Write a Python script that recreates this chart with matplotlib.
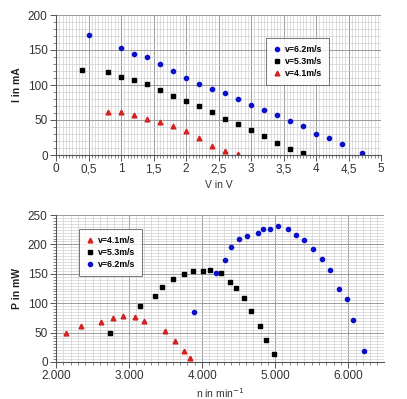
import matplotlib
matplotlib.use("Agg")
import matplotlib.pyplot as plt
from matplotlib.ticker import MultipleLocator, FuncFormatter

plt.rcParams['font.family'] = ['Liberation Sans', 'DejaVu Sans']

# ---- Top chart: I-V curves ----
v62_V = [0.5, 1.0, 1.2, 1.4, 1.6, 1.8, 2.0, 2.2, 2.4, 2.6, 2.8, 3.0, 3.2, 3.4, 3.6, 3.8, 4.0, 4.2, 4.4, 4.7]
v62_I = [171.5, 153, 144, 140, 130, 120, 109.5, 102, 94, 88.5, 80.5, 72, 64, 56.5, 48.5, 41, 30.5, 25, 15.5, 3.5]
v53_V = [0.4, 0.8, 1.0, 1.2, 1.4, 1.6, 1.8, 2.0, 2.2, 2.4, 2.6, 2.8, 3.0, 3.2, 3.4, 3.6, 3.8]
v53_I = [121, 118.5, 111.5, 107, 101.5, 93, 85, 77.5, 70.5, 62, 52, 45, 35.5, 26.5, 17, 9, 2.5]
v41_V = [0.8, 1.0, 1.2, 1.4, 1.6, 1.8, 2.0, 2.2, 2.4, 2.6, 2.8]
v41_I = [62, 61, 56.5, 52, 47.5, 41, 34.5, 24, 13.5, 6, 1.5]

# ---- Bottom chart: P-n curves ----
p41_n = [2137, 2338, 2612, 2781, 2922, 3082, 3210, 3498, 3626, 3758, 3831]
p41_P = [49, 61.5, 68, 74, 78, 76, 70.5, 53.5, 35.5, 18.5, 6.5]
p53_n = [2740, 3155, 3352, 3457, 3607, 3758, 3872, 4014, 4114, 4260, 4388, 4470, 4575, 4671, 4795, 4881, 4982]
p53_P = [49, 95, 112, 128, 142, 149, 154.5, 155.5, 157, 151, 136, 126.5, 108, 86, 60.5, 37, 13]
p62_n = [3895, 4187, 4315, 4397, 4507, 4616, 4762, 4830, 4932, 5037, 5174, 5288, 5397, 5516, 5640, 5744, 5872, 5982, 6068, 6215]
p62_P = [85, 152, 173, 196, 208.5, 215, 219, 225.5, 227, 231, 225.5, 216.5, 207, 191.5, 175, 157, 124, 107.5, 72, 18]

lab62 = "v=6.2m/s"
lab53 = "v=5.3m/s"
lab41 = "v=4.1m/s"

BLUE = "#0a10c8"
RED = "#d42020"
BLACK = "#000000"

W, H = 407, 399
fig = plt.figure(figsize=(W / 100, H / 100), dpi=100)

def frac(l, t, r, b):
    return [l / W, 1 - b / H, (r - l) / W, (b - t) / H]

def style(ax):
    ax.grid(which='major', color='#9a9a9a', linewidth=0.7)
    ax.grid(which='minor', color='#d0d0d0', linewidth=0.5)
    ax.set_axisbelow(True)
    for s in ['top', 'right']:
        ax.spines[s].set_visible(False)
    for s in ['left', 'bottom']:
        ax.spines[s].set_color('#555555')
        ax.spines[s].set_linewidth(0.8)
    ax.tick_params(which='major', direction='out', length=4, width=0.7, color='#555555',
                   labelsize=8.5, labelcolor='#333333', pad=2)
    ax.tick_params(which='minor', direction='out', length=2, width=0.5, color='#555555')

MS_C, MS_S, MS_T = 3.0, 3.2, 3.4

# Top
ax1 = fig.add_axes(frac(56, 15, 381, 155))
ax1.plot(v62_V, v62_I, 'o', color=BLUE, ms=MS_C, mec=BLUE, label=lab62)
ax1.plot(v53_V, v53_I, 's', color=BLACK, ms=MS_S, label=lab53)
ax1.plot(v41_V, v41_I, '^', color=RED, ms=MS_T, mec=RED, label=lab41)
ax1.set_xlim(0, 5)
ax1.set_ylim(0, 200)
ax1.xaxis.set_major_locator(MultipleLocator(0.5))
ax1.xaxis.set_minor_locator(MultipleLocator(0.05))
ax1.yaxis.set_major_locator(MultipleLocator(50))
ax1.yaxis.set_minor_locator(MultipleLocator(10))
ax1.xaxis.set_major_formatter(FuncFormatter(lambda x, p: ('%g' % x).replace('.', ',')))
style(ax1)
ax1.set_xlabel("V in V", fontsize=7.5, color='#333333', labelpad=3)
ax1.set_ylabel("I in mA", fontsize=7.5, fontweight='bold', color='#222222', labelpad=4)
leg1 = ax1.legend(loc='upper left', bbox_to_anchor=((262 - 56) / 325, 1 - (34 - 15) / 140),
                  frameon=True, fancybox=False, edgecolor='#555555',
                  handlelength=0.8, handletextpad=0.5, borderpad=0.8, labelspacing=0.3,
                  prop={'weight': 'bold', 'size': 6.3})
leg1.get_frame().set_linewidth(0.7)

# Bottom
ax2 = fig.add_axes(frac(56, 215, 384, 362))
ax2.plot(p41_n, p41_P, '^', color=RED, ms=MS_T, mec=RED, label=lab41)
ax2.plot(p53_n, p53_P, 's', color=BLACK, ms=MS_S, label=lab53)
ax2.plot(p62_n, p62_P, 'o', color=BLUE, ms=MS_C, mec=BLUE, label=lab62)
ax2.set_xlim(2000, 6490)
ax2.set_ylim(0, 250)
ax2.xaxis.set_major_locator(MultipleLocator(1000))
ax2.xaxis.set_minor_locator(MultipleLocator(100))
ax2.yaxis.set_major_locator(MultipleLocator(50))
ax2.yaxis.set_minor_locator(MultipleLocator(5))
ax2.xaxis.set_major_formatter(FuncFormatter(lambda x, p: '{:,.0f}'.format(x).replace(',', '.')))
style(ax2)
ax2.set_xlabel("n in min$^{-1}$", fontsize=7.5, color='#333333', labelpad=3)
ax2.set_ylabel("P in mW", fontsize=7.5, fontweight='bold', color='#222222', labelpad=4)
leg2 = ax2.legend(loc='upper left', bbox_to_anchor=((75 - 56) / 328, 1 - (225 - 215) / 147),
                  frameon=True, fancybox=False, edgecolor='#555555',
                  handlelength=0.8, handletextpad=0.5, borderpad=0.8, labelspacing=0.3,
                  prop={'weight': 'bold', 'size': 6.3})
leg2.get_frame().set_linewidth(0.7)

fig.savefig("out.png", dpi=100)
